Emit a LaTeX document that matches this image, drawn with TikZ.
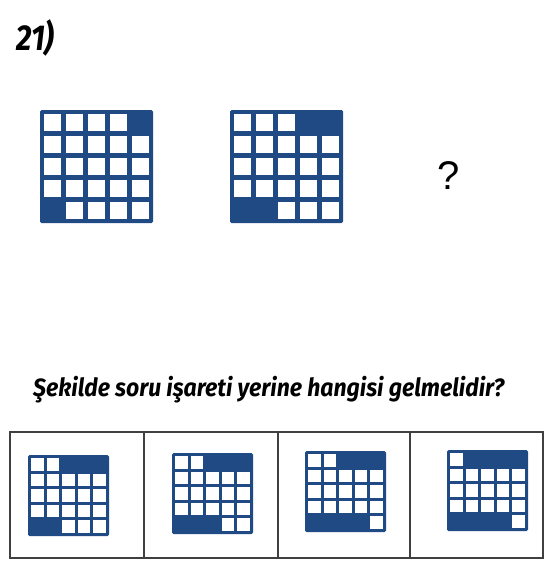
\documentclass[tikz,border=0pt]{standalone}
\usepackage{fontspec}
\setmainfont{Fira Sans}
\newfontfamily\qfont{Liberation Sans}
\usepackage{xcolor}
\usepackage{tikz}
\usetikzlibrary{positioning, calc}

\definecolor{gridblue}{HTML}{1F4A84}

% #1,#2 top left; #3 pitch; #4 gap; #5 margin; #6 dark cells top right; #7 dark cells bottom left
\newcommand{\puzzlegrid}[7]{%
  \pgfmathsetmacro{\gsize}{2*#5+5*#3-#4}
  \fill[gridblue, rounded corners=1.5pt] (#1,#2) rectangle ++(\gsize,\gsize);
  \foreach \r in {1,...,5}{
    \foreach \c in {1,...,5}{
      \pgfmathtruncatemacro{\skipcell}{((\r==1) && (\c>5-#6)) || ((\r==5) && (\c<=#7)) ? 1 : 0}
      \ifnum\skipcell=0
        \fill[white] ({#1+#5+(\c-1)*#3},{#2+#5+(\r-1)*#3}) rectangle ++({#3-#4},{#3-#4});
      \fi
    }
  }
}

\begin{document}
\begin{tikzpicture}[
    x=1pt, y=-1pt,
    title/.style={anchor=base west, inner sep=0pt, font=\bfseries\itshape},
    frame/.style={draw=black!75, line width=1.2pt},
]
    \useasboundingbox (0,0) rectangle (547,568);

    \node[title, font=\fontsize{36}{36}\selectfont\bfseries\itshape] (num) at (16,50) {\scalebox{0.85}[1]{21)}};

    % question row
    \puzzlegrid{40}{110}{22}{5}{4}{1}{1}
    \puzzlegrid{230}{110}{22}{5}{4}{2}{2}
    \node[inner sep=0pt, font=\fontsize{40}{40}\selectfont\qfont] (qmark) at (448.5,176) {?};

    \node[title, font=\fontsize{25}{25}\selectfont\bfseries\itshape] (ask) at (33,396)
        {\scalebox{0.92}[1]{Şekilde soru işareti yerine hangisi gelmelidir?}};

    % answer options
    \draw[frame] (10,432) rectangle (543,558);
    \draw[frame] (144,432) -- (144,558);
    \draw[frame] (278,432) -- (278,558);
    \draw[frame] (410,432) -- (410,558);

    \puzzlegrid{28}{455}{15.6}{3}{3}{3}{2}
    \puzzlegrid{172}{453}{15.6}{3}{3}{3}{3}
    \puzzlegrid{305}{451}{15.6}{3}{3}{3}{4}
    \puzzlegrid{447}{450}{15.6}{3}{3}{4}{4}
\end{tikzpicture}
\end{document}
